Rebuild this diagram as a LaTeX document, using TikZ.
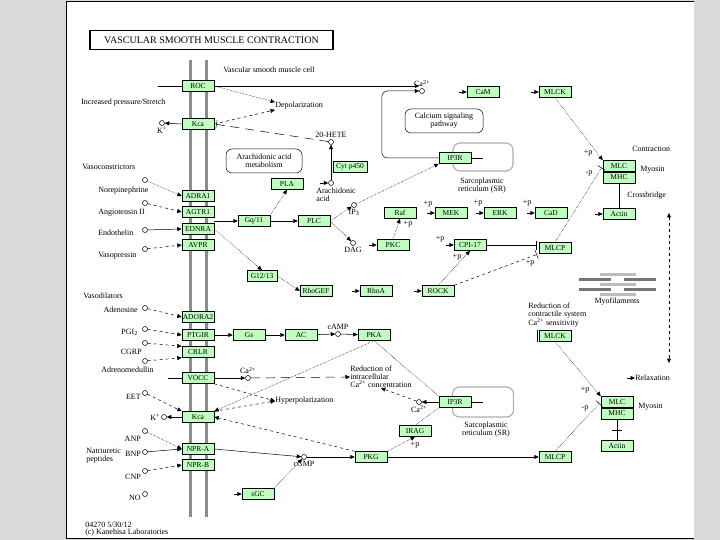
\documentclass[tikz,border=0pt]{standalone}
\usepackage{fontspec}
\setmainfont{Liberation Serif}
\usetikzlibrary{arrows.meta}

\definecolor{kgreen}{HTML}{BFFFBF}
\definecolor{slidegray}{HTML}{D9D9D9}
\definecolor{srgray}{HTML}{B0B0B0}
\definecolor{membgray}{HTML}{8C8C8C}
\definecolor{fillight}{HTML}{BDBDBD}
\definecolor{fildark}{HTML}{767676}

\newcommand{\genefont}{\fontsize{7.5}{8}\selectfont}
\newcommand{\txtfont}{\fontsize{8}{8}\selectfont}

\tikzset{
  gene/.style={draw, fill=kgreen, minimum width=32pt, minimum height=11pt, inner sep=0pt, font=\genefont},
  cpd/.style={circle, draw, fill=white, minimum size=5pt, inner sep=0pt},
  txt/.style={inner sep=0pt, font=\txtfont, align=left},
  lbl/.style={inner sep=1pt, font=\txtfont},
  maplink/.style={draw, rounded corners=6pt, minimum height=24pt, inner sep=0pt, font=\txtfont, align=center},
  srbox/.style={draw=srgray, line width=1.2pt, rounded corners=7pt},
  act/.style={-{Triangle[length=4.5pt,width=4pt]}},
  inh/.style={-{Bar[width=9pt]}, shorten >=2pt},
  dots/.style={densely dotted},
  longdash/.style={dash pattern=on 9pt off 6pt},
}

\begin{document}
\begin{tikzpicture}[x=1pt, y=-1pt, line width=0.5pt]
\useasboundingbox (0,0) rectangle (720,540);
\fill[slidegray] (0,0) rectangle (720,540);
\fill[white] (66,1) rectangle (694,538);
\draw (694,1) -- (66,1) -- (66,538) -- (694,538);

\node[draw, line width=1.5pt, minimum width=243pt, minimum height=19pt, inner sep=0pt, font=\fontsize{10}{10}\selectfont] (title) at (211.5,40) {VASCULAR SMOOTH MUSCLE CONTRACTION};

% cell membrane
\draw[membgray, line width=3pt] (190,60) -- (190,517);
\draw[membgray, line width=3pt] (206,60) -- (206,517);
\coordinate (memtop) at (158,86);
\coordinate (memvocc) at (168,378);

% sarcoplasmic reticulum
\node[srbox, minimum width=60pt, minimum height=28pt] (sr1) at (483,157) {};
\node[srbox, minimum width=61pt, minimum height=30pt] (sr2) at (483,402) {};
\coordinate (sr1in) at (483,158);
\coordinate (sr2in) at (483,402);

% receptors and channels
\node[gene] (roc)    at (198,86)  {ROC};
\node[gene] (kca1)   at (198,124) {Kca};
\node[gene] (adra1)  at (198,196) {ADRA1};
\node[gene] (agtr1)  at (198,212) {AGTR1};
\node[gene] (ednra)  at (198,229) {EDNRA};
\node[gene] (avpr)   at (198,245) {AVPR};
\node[gene] (adora2) at (198,317) {ADORA2};
\node[gene] (ptgir)  at (198,335) {PTGIR};
\node[gene] (crlr)   at (198,352) {CRLR};
\node[gene] (vocc)   at (198,378) {VOCC};
\node[gene] (kca2)   at (198,417) {Kca};
\node[gene] (npra)   at (198,449) {NPR-A};
\node[gene] (nprb)   at (198,465) {NPR-B};

% contraction side
\node[gene] (gq)     at (254,221) {Gq/11};
\node[gene] (plc)    at (314,221) {PLC};
\node[gene] (pla)    at (287,184) {PLA};
\node[gene, minimum width=34pt] (cyp) at (350,167) {Cyt p450};
\node[gene, minimum width=30pt] (g1213) at (262,276) {G12/13};
\node[gene] (rhogef) at (316,291) {RhoGEF};
\node[gene] (rhoa)   at (376,291) {RhoA};
\node[gene] (rock)   at (438,291) {ROCK};
\node[gene] (pkc)    at (393,245) {PKC};
\node[gene] (raf)    at (400,213) {Raf};
\node[gene] (mek)    at (451,213) {MEK};
\node[gene] (erk)    at (500,213) {ERK};
\node[gene] (cad)    at (551,213) {CaD};
\node[gene] (cpi17)  at (470,245) {CPI-17};
\node[gene] (mlcp1)  at (555,248) {MLCP};
\node[gene] (ip3r1)  at (455,158) {IP3R};
\node[gene] (cam)    at (483,92)  {CaM};
\node[gene] (mlck1)  at (555,92)  {MLCK};
\node[gene] (mlc1)   at (619,166) {MLC};
\node[gene, anchor=north] (mhc1) at (mlc1.south) {MHC};
\node[gene] (actin1) at (619,214) {Actin};

% relaxation side
\node[gene] (gs)     at (249,335) {Gs};
\node[gene] (ac)     at (301,335) {AC};
\node[gene] (pka)    at (374,335) {PKA};
\node[gene] (mlck2)  at (555,336) {MLCK};
\node[gene] (irag)   at (415,431) {IRAG};
\node[gene] (ip3r2)  at (455,402) {IP3R};
\node[gene] (pkg)    at (371,457) {PKG};
\node[gene] (mlcp2)  at (555,457) {MLCP};
\node[gene] (mlc2)   at (617,402) {MLC};
\node[gene, anchor=north] (mhc2) at (mlc2.south) {MHC};
\node[gene] (actin2) at (617,446) {Actin};
\node[gene] (sgc)    at (258,494) {sGC};

% compounds
\node[cpd, label={[lbl]above:Ca\textsuperscript{2+}}] (ca1) at (422,91) {};
\node[cpd, label={[lbl]above:20-HETE}] (hete) at (331,142) {};
\node[cpd] (aa) at (331,183) {};
\node[cpd, label={[lbl]below:IP\textsubscript{3}}] (ip3) at (354,205) {};
\node[cpd, label={[lbl]below:DAG}] (dag) at (353,243) {};
\node[cpd, label={[lbl]below:K\textsuperscript{+}}] (k1) at (162,123) {};
\node[cpd] (norepi) at (145,180) {};
\node[cpd] (angii)  at (145,203) {};
\node[cpd] (endo)   at (145,230) {};
\node[cpd] (vaso)   at (145,249) {};
\node[cpd] (aden)   at (145,308) {};
\node[cpd] (pgi2)   at (145,329) {};
\node[cpd] (cgrp)   at (145,343) {};
\node[cpd] (adm)    at (145,361) {};
\node[cpd, label={[lbl]above:cAMP}] (camp) at (338,334) {};
\node[cpd, label={[lbl]above:Ca\textsuperscript{2+}}] (ca2) at (248,378) {};
\node[cpd] (eet)    at (145,393) {};
\node[cpd, label={[lbl]left:K\textsuperscript{+}}] (k2) at (164,417) {};
\node[cpd, label={[lbl]below:Ca\textsuperscript{2+}}] (ca3) at (419,402) {};
\node[cpd] (anp)    at (145,431) {};
\node[cpd] (bnp)    at (145,452) {};
\node[cpd] (cnp)    at (145,471) {};
\node[cpd] (no)     at (145,494) {};
\node[cpd, label={[lbl]below:cGMP}] (cgmp) at (304,457) {};

% texts
\node[txt, anchor=west] (cellname) at (223,70)  {Vascular smooth muscle cell};
\node[txt, anchor=west] (stretch)  at (81,103)  {Increased pressure/Stretch};
\node[txt, anchor=west] (depol)    at (275,106) {Depolarization};
\node[txt, anchor=north west] (aaname) at (316,188) {Arachidonic\\acid};
\node[maplink, minimum width=76pt] (aamet) at (264,161) {Arachidonic acid\\metabolism};
\node[maplink, minimum width=78pt] (casig) at (444,121) {Calcium signaling\\pathway};
\node[txt, align=center] (srname1) at (482,186) {Sarcoplasmic\\reticulum (SR)};
\node[txt, align=center] (srname2) at (486,430) {Sarcoplasmic\\reticulum (SR)};
\node[txt, anchor=west] (vcon)     at (82,167)  {Vasoconstrictors};
\node[txt, anchor=west] (tnorepi)  at (98,191)  {Norepinephrine};
\node[txt, anchor=west] (tangii)   at (98,213)  {Angiotensin II};
\node[txt, anchor=west] (tendo)    at (98,233)  {Endothelin};
\node[txt, anchor=west] (tvaso)    at (98,256)  {Vasopressin};
\node[txt, anchor=west] (vdil)     at (83,296)  {Vasodilators};
\node[txt, anchor=east] (taden)    at (138,310) {Adenosine};
\node[txt, anchor=east] (tpgi2)    at (138,332) {PGI\textsubscript{2}};
\node[txt, anchor=east] (tcgrp)    at (142,352) {CGRP};
\node[txt, anchor=west] (tadm)     at (101,370) {Adrenomedullin};
\node[txt, anchor=east] (teet)     at (141,397) {EET};
\node[txt, anchor=east] (tanp)     at (141,439) {ANP};
\node[txt, anchor=east] (tbnp)     at (141,454) {BNP};
\node[txt, anchor=east] (tcnp)     at (141,477) {CNP};
\node[txt, anchor=east] (tno)      at (141,498) {NO};
\node[txt, anchor=west] (natri)    at (86,456)  {Natriuretic\\peptides};
\node[txt, anchor=west] (hyper)    at (275,401) {Hyperpolarization};
\node[txt, anchor=west] (redca)    at (350,377) {Reduction of\\intracellular\\Ca\textsuperscript{2+} concentration};
\node[txt, anchor=west] (redsens)  at (528,315) {Reduction of\\contractile system\\Ca\textsuperscript{2+} sensitivity};
\node[txt] (myofil)                at (617,302) {Myofilaments};
\node[txt, anchor=west] (contr)    at (632,149) {Contraction};
\node[txt, anchor=west] (myosin1)  at (640,170) {Myosin};
\node[txt, anchor=west] (xbridge)  at (627,196) {Crossbridge};
\node[txt, anchor=west] (myosin2)  at (638,407) {Myosin};
\node[txt, anchor=west] (relax)    at (635,378) {Relaxation};
\node[txt, anchor=west] (mapno)    at (85,525)  {04270 5/30/12};
\node[txt, anchor=west] (copyr)    at (85,533)  {(c) Kanehisa Laboratories};

% phosphorylation marks
\node[lbl] (p1)  at (408,224) {+p};
\node[lbl] (p2)  at (428,204) {+p};
\node[lbl] (p3)  at (478,203) {+p};
\node[lbl] (p4)  at (527,203) {+p};
\node[lbl] (p5)  at (440,239) {+p};
\node[lbl] (p6)  at (457,257) {+p};
\node[lbl] (p7)  at (530,263) {+p};
\node[lbl] (p8)  at (588,153) {+p};
\node[lbl] (p9)  at (589,173) {-p};
\node[lbl] (p10) at (585,390) {+p};
\node[lbl] (p11) at (585,408) {-p};
\node[lbl] (p12) at (415,445) {+p};

% myofilaments
\foreach \y in {274.5,284,294}
  \draw[fillight, line width=3pt] (600,\y) -- (636,\y);
\foreach \y in {279.5,289} {
  \draw[fildark, line width=3pt] (579,\y) -- (611,\y);
  \draw[fildark, line width=3pt] (624,\y) -- (656,\y);
}

\coordinate (vtop) at (669,213);
\coordinate (vbot) at (669,363);

% short arrows without a visible source
\foreach \n in {cam,mlck1,mek,erk,cad,actin1,rhoa,rock,pkc,cpi17,sgc,aa,relax}
  \draw[act] ([xshift=-8pt]\n.west) -- (\n.west);

% contraction
\draw (memtop) -- (roc.west);
\path [act]          (roc.east) edge (roc.east -| ca1.west);
\draw [act, rounded corners=6pt] (ip3r1.west) -- ++(-57,0) |- (ca1.west);
\path [act, dots]    (roc.east) edge (depol.north west);
\path [act, dashed]  (kca1.east) edge (depol.south west);
\path [act]          (kca1.west) edge (k1);
\path [inh, longdash] (hete) edge (kca1.east);
\path [act]          (aa) edge (hete);
\path [act, dots]    (norepi) edge (adra1.west);
\path [act, dashed]  (angii) edge (agtr1.west);
\path [act]          (endo) edge (ednra.west);
\path [act, dashed]  (vaso) edge (avpr.west);
\path [act]          (ednra.east |- gq.west) edge (gq.west);
\path [act]          (gq) edge (plc);
\path [act, dots]    (gq.north east) edge (pla.south);
\path [act, dots]    (ednra.east) edge (g1213.north);
\path [act, dots]    (g1213.east) edge (rhogef.west);
\path [act, dots]    (plc.east) edge (ip3);
\path [act, dots]    (plc.east) edge (dag);
\path [act, dots]    (ip3) edge (ip3r1.south west);
\path [act, dots]    (pkc.north) edge (raf.south);
\path [act, dots]    (rock.north) edge (cpi17.south);
\path [inh]          (cpi17.east) edge (cpi17.east -| mlcp1.west);
\path [inh, dashed]  (rock.north east) edge (mlcp1.south west);
\path [inh, dots]    (mlcp1.north) edge (mlc1.west);
\path [act, dots]    (mlck1.south) edge (mlc1.north west);
\draw (mhc1.south) -- (actin1.north);
\draw (ip3r1.east) -- (sr1in);
\path [{Triangle[length=4.5pt,width=4pt]}-{Triangle[length=4.5pt,width=4pt]}, dashed] (vtop) edge (vbot);

% relaxation
\path [act, dashed]  (aden) edge (adora2.west);
\path [act, dashed]  (pgi2) edge (ptgir.west);
\path [act, dashed]  (cgrp) edge (crlr.north west);
\path [act, dashed]  (adm) edge (crlr.south west);
\path [act]          (ptgir) edge (gs);
\path [act]          (gs) edge (ac);
\path [act]          (ac) edge (camp);
\path [act]          (camp) edge (pka);
\draw (memvocc) -- (vocc.west);
\path [act]          (vocc) edge (ca2);
\path [act, longdash] (ca2) edge (redca.west);
\path [act, dashed]  (vocc.south east) edge (hyper.west);
\path [act, dashed]  (kca2.north east) edge (hyper.west);
\path [act, dots]    (pka.south) edge (kca2.north east);
\path [dots]         (pka.south) edge (ip3r2.north west);
\path [act, dashed]  (eet) edge (kca2.north west);
\path [act]          (kca2.west) edge (k2);
\path [act]          (ip3r2) edge (ca3);
\draw (ip3r2.east) -- (sr2in);
\path [act, dashed]  (ca3) edge (redca.south);
\path [dots]         (irag.north) edge (ip3r2.south west);
\path [act, dots]    (pkg.north east) edge (irag.south);
\path [act]          (cgmp) edge (pkg);
\path [act]          (pkg) edge (mlcp2);
\path [act, dashed]  (pkg.north west) edge (kca2.east);
\path [act, dots]    (anp) edge (npra.west);
\path [act]          (bnp) edge (npra.west);
\path [act, dashed]  (cnp) edge (nprb.west);
\path [act]          (npra.east) edge (cgmp);
\path [act, dots]    (sgc.north east) edge (cgmp);
\path [act, dots]    (mlck2.south) edge (mlc2.north west);
\path [inh, dots]    (mlcp2.north) edge (mlc2.west);
\draw (mhc2.south) -- coordinate (xbar) (actin2.north);
\draw ([xshift=-5pt]xbar) -- ([xshift=5pt]xbar);
\draw ([xshift=-2pt]mlck2.north west) -- ([xshift=-2pt]mlck2.south west);
\end{tikzpicture}
\end{document}
